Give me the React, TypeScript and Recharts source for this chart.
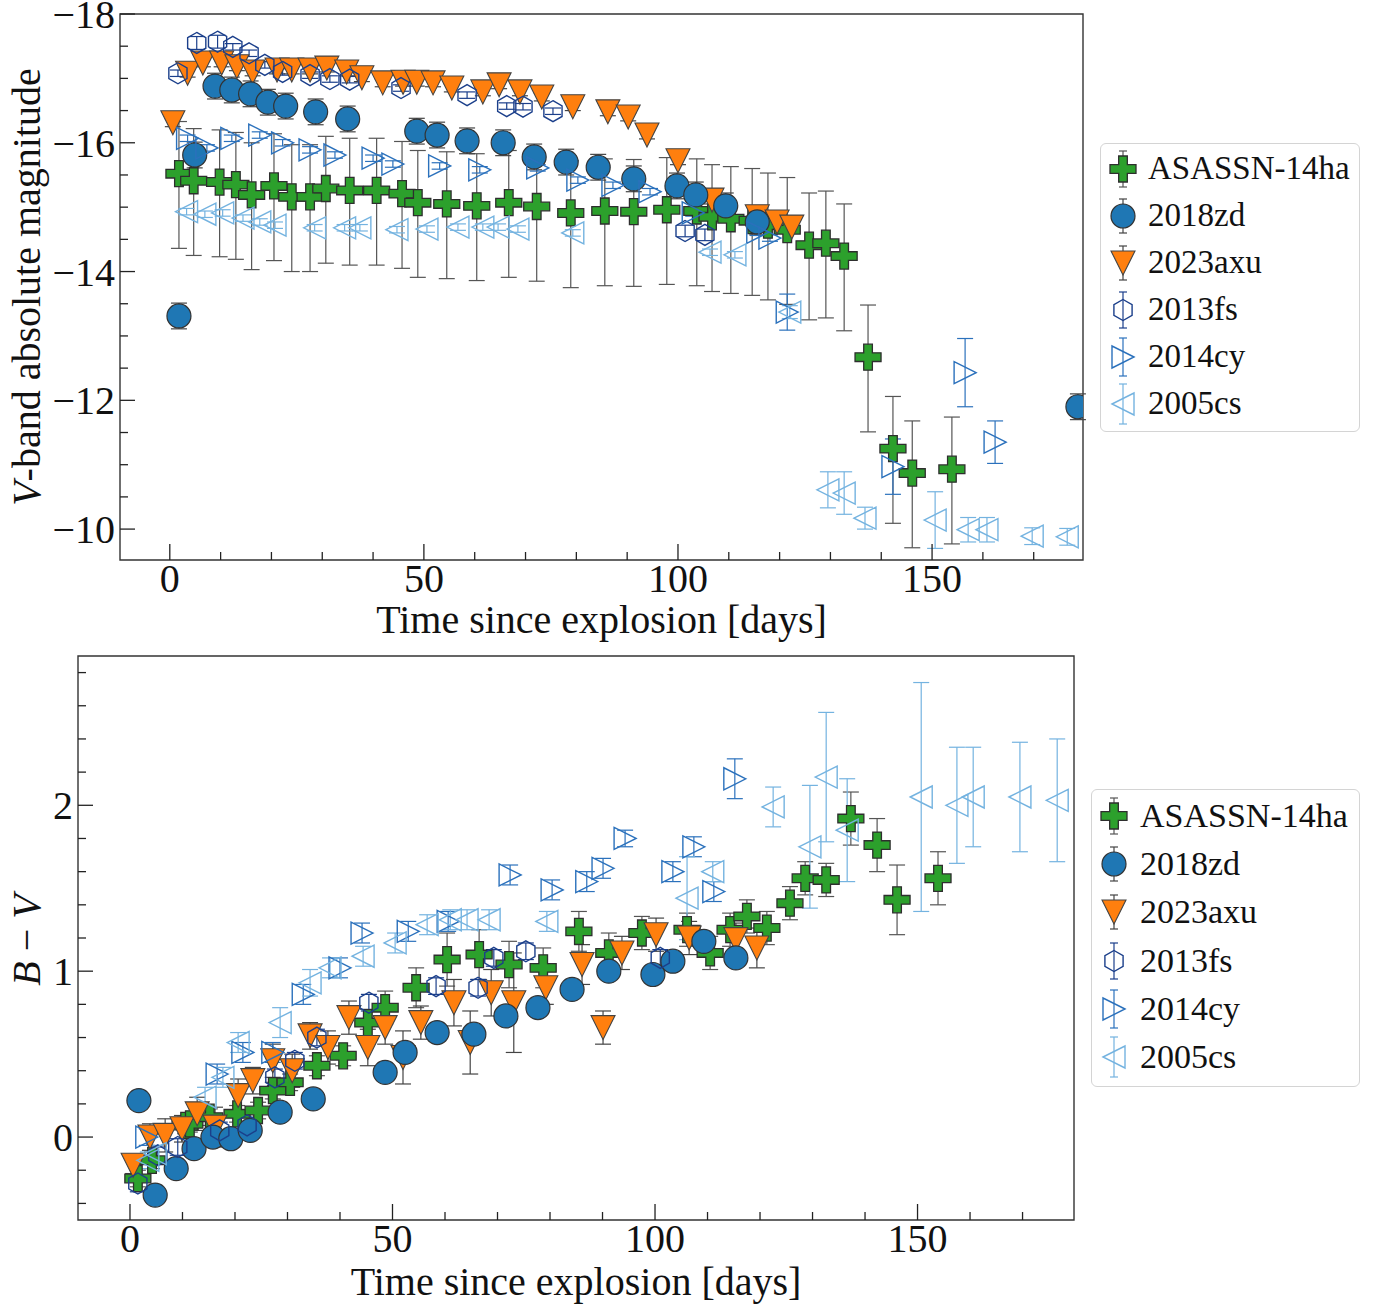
import React from "react";
import { ScatterChart, Scatter, XAxis, YAxis, ErrorBar, Legend, ReferenceArea } from "recharts";

const FONT = '"Liberation Serif", "DejaVu Serif", "Times New Roman", serif';

// colours
const C_AS = "#2ca02c";
const C_ZD = "#1f77b4";
const C_AXU = "#ff7f0e";
const C_FS = "#1b3f8b";
const C_CY = "#2b71bc";
const C_CS = "#74b3e0";

// ---------- top panel: V-band absolute magnitude ----------
const vAsDay = [1.8, 4.7, 9.8, 13.0, 16.1, 20.5, 24.0, 27.6, 30.7, 35.4, 40.7, 45.7, 48.8, 54.5, 60.4, 66.7, 72.2, 78.9, 85.6, 91.3, 97.8, 103.7, 106.7, 110.4, 114.6, 117.7, 121.5, 125.8, 129.1, 132.7, 137.4, 142.3, 146.1, 153.9];
const vAsMag = [-15.52, -15.41, -15.39, -15.35, -15.19, -15.33, -15.16, -15.16, -15.29, -15.26, -15.26, -15.21, -15.07, -15.05, -15.02, -15.07, -15.01, -14.91, -14.94, -14.93, -14.96, -14.94, -14.85, -14.82, -14.79, -14.72, -14.65, -14.41, -14.44, -14.24, -12.67, -11.25, -10.87, -10.93];
const vAsErrUp = 0.81;
const vAsErrDown = 1.16;

const vZdDay = [1.8, 4.9, 8.9, 12.2, 15.9, 19.3, 22.8, 28.7, 35.0, 48.6, 52.6, 58.5, 65.6, 71.7, 78.0, 84.3, 91.3, 99.8, 103.5, 109.4, 115.6, 178.7];
const vZdMag = [-13.31, -15.81, -16.88, -16.82, -16.76, -16.63, -16.57, -16.48, -16.37, -16.18, -16.12, -16.03, -16.0, -15.78, -15.7, -15.62, -15.44, -15.33, -15.19, -15.02, -14.77, -11.9];
const vZdErr = 0.2;

const vAxuDay = [0.6, 3.5, 6.5, 10.2, 13.2, 16.3, 21.1, 24.0, 27.6, 30.9, 34.8, 37.8, 41.9, 45.9, 48.6, 51.8, 55.5, 61.6, 64.8, 68.9, 73.2, 79.3, 86.2, 90.2, 93.9, 100.0, 106.7, 115.6, 119.5, 122.4];
const vAxuMag = [-16.31, -17.08, -17.24, -17.24, -17.18, -17.1, -17.13, -17.13, -17.13, -17.16, -17.1, -17.01, -16.93, -16.94, -16.94, -16.93, -16.85, -16.79, -16.9, -16.79, -16.71, -16.56, -16.48, -16.4, -16.12, -15.72, -15.11, -14.85, -14.77, -14.69];
const vAxuErr = 0.06;

const vFsDay = [1.6, 5.3, 9.4, 12.4, 15.6, 18.7, 22.2, 27.6, 31.5, 35.4, 45.5, 58.5, 66.3, 69.5, 75.4, 101.4, 105.3];
const vFsMag = [-17.08, -17.55, -17.57, -17.49, -17.39, -17.21, -17.1, -17.05, -16.99, -16.98, -16.85, -16.74, -16.57, -16.56, -16.49, -14.63, -14.57];
const vFsErr = [0.05, 0.1, 0.1, 0.05, 0.05, 0.05, 0.05, 0.05, 0.05, 0.05, 0.05, 0.05, 0.05, 0.05, 0.05, 0.09, 0.09];

const vCyDay = [3.5, 7.3, 12.2, 17.7, 22.2, 27.6, 32.5, 40.0, 43.9, 53.1, 61.0, 72.4, 80.3, 87.2, 94.5, 103.0, 115.7, 118.1, 121.5, 142.3, 156.5, 162.4];
const vCyMag = [-16.07, -15.92, -16.07, -16.12, -16.0, -15.89, -15.81, -15.76, -15.67, -15.64, -15.58, -15.61, -15.42, -15.34, -15.24, -14.91, -14.61, -14.52, -13.37, -10.97, -12.43, -11.35];
const vCyErr = [0.05, 0.05, 0.05, 0.05, 0.05, 0.05, 0.05, 0.05, 0.05, 0.05, 0.05, 0.05, 0.05, 0.05, 0.05, 0.05, 0.05, 0.05, 0.28, 0.43, 0.53, 0.33];

const vCsDay = [3.3, 6.9, 10.4, 14.4, 17.7, 20.7, 28.5, 34.4, 37.4, 44.7, 50.6, 56.7, 61.6, 64.6, 68.5, 79.3, 106.3, 111.2, 122.0, 129.5, 132.7, 136.8, 150.6, 157.1, 160.8, 169.7, 176.6];
const vCsMag = [-14.93, -14.89, -14.91, -14.83, -14.77, -14.72, -14.68, -14.68, -14.68, -14.65, -14.66, -14.69, -14.69, -14.69, -14.66, -14.6, -14.3, -14.26, -13.37, -10.61, -10.56, -10.17, -10.14, -9.99, -9.99, -9.89, -9.88];
const vCsErr = [0.05, 0.05, 0.05, 0.05, 0.05, 0.05, 0.05, 0.05, 0.05, 0.05, 0.05, 0.05, 0.05, 0.05, 0.05, 0.05, 0.05, 0.05, 0.1, 0.28, 0.33, 0.17, 0.44, 0.19, 0.19, 0.13, 0.13];

// ---------- bottom panel: B - V colour ----------
const bvAsDay = [1.5, 4.2, 10.5, 11.4, 15.2, 20.4, 24.4, 27.2, 30.5, 35.6, 40.6, 45.3, 48.6, 54.5, 60.4, 66.5, 72.2, 78.7, 85.5, 91.2, 97.5, 106.1, 110.5, 114.3, 117.5, 121.3, 125.7, 128.6, 132.6, 137.3, 142.3, 146.1, 153.9];
const bvAsVal = [-0.25, -0.14, 0.07, 0.08, 0.12, 0.14, 0.16, 0.28, 0.33, 0.43, 0.49, 0.69, 0.78, 0.9, 1.07, 1.1, 1.04, 1.02, 1.24, 1.11, 1.23, 1.25, 1.11, 1.25, 1.33, 1.26, 1.41, 1.56, 1.55, 1.92, 1.76, 1.43, 1.56];
const bvAsErr = [0.05, 0.05, 0.05, 0.05, 0.05, 0.05, 0.05, 0.05, 0.05, 0.06, 0.06, 0.08, 0.1, 0.12, 0.16, 0.15, 0.14, 0.12, 0.12, 0.12, 0.1, 0.1, 0.1, 0.1, 0.1, 0.1, 0.1, 0.1, 0.1, 0.16, 0.16, 0.21, 0.16];

const bvZdDay = [1.7, 4.8, 8.8, 12.2, 15.8, 19.2, 22.9, 28.6, 34.9, 48.6, 52.4, 58.5, 65.5, 71.6, 77.7, 84.2, 91.2, 99.6, 103.4, 109.3, 115.4];
const bvZdVal = [0.22, -0.35, -0.19, -0.07, 0.0, -0.01, 0.04, 0.15, 0.23, 0.39, 0.51, 0.63, 0.62, 0.73, 0.78, 0.89, 1.0, 0.98, 1.06, 1.18, 1.08];
const bvZdErr = 0.04;

const bvAxuDay = [0.6, 3.8, 6.7, 9.9, 12.8, 16.2, 20.6, 23.4, 27.2, 30.9, 34.3, 37.7, 41.7, 45.3, 48.6, 52.0, 55.4, 61.7, 64.8, 68.8, 73.1, 79.2, 86.1, 90.1, 93.7, 100.2, 106.5, 115.4, 119.4];
const bvAxuVal = [-0.17, 0.0, 0.01, 0.05, 0.14, 0.06, 0.25, 0.34, 0.46, 0.4, 0.61, 0.54, 0.72, 0.54, 0.66, 0.48, 0.69, 0.81, 0.57, 0.87, 0.81, 0.9, 1.04, 0.66, 1.11, 1.22, 1.2, 1.19, 1.14];
const bvAxuErr = [0.05, 0.08, 0.1, 0.08, 0.1, 0.12, 0.1, 0.08, 0.1, 0.1, 0.08, 0.1, 0.1, 0.11, 0.1, 0.16, 0.1, 0.14, 0.19, 0.14, 0.3, 0.1, 0.12, 0.1, 0.1, 0.1, 0.1, 0.1, 0.12];

const bvFsDay = [1.5, 5.3, 9.1, 17.1, 22.3, 27.6, 31.4, 35.6, 45.5, 58.3, 66.3, 69.3, 75.4, 101.0];
const bvFsVal = [-0.28, -0.11, -0.06, 0.04, 0.07, 0.36, 0.46, 0.6, 0.81, 0.91, 0.9, 1.08, 1.12, 1.08];
const bvFsErr = 0.05;

const bvCyDay = [3.2, 16.6, 21.5, 27.2, 33.0, 40.0, 44.2, 53.0, 60.6, 72.4, 80.4, 87.0, 90.1, 94.3, 103.4, 107.4, 111.2, 115.2];
const bvCyVal = [0.0, 0.38, 0.51, 0.51, 0.86, 1.02, 1.23, 1.24, 1.3, 1.58, 1.49, 1.54, 1.62, 1.8, 1.6, 1.75, 1.48, 2.16];
const bvCyErr = [0.05, 0.06, 0.06, 0.06, 0.06, 0.06, 0.06, 0.06, 0.06, 0.06, 0.06, 0.06, 0.06, 0.05, 0.06, 0.06, 0.06, 0.12];

const bvCsDay = [3.4, 4.8, 14.3, 17.7, 20.6, 28.6, 34.3, 38.1, 44.4, 50.5, 56.6, 61.0, 64.2, 68.4, 79.4, 106.1, 111.0, 122.5, 129.5, 132.6, 136.6, 150.7, 157.5, 160.6, 169.5, 176.6];
const bvCsVal = [-0.14, -0.1, 0.24, 0.36, 0.57, 0.69, 0.93, 1.02, 1.09, 1.17, 1.28, 1.31, 1.31, 1.31, 1.3, 1.44, 1.6, 1.99, 1.75, 2.17, 1.85, 2.05, 2.0, 2.05, 2.05, 2.03];
const bvCsErr = [0.05, 0.05, 0.06, 0.06, 0.06, 0.09, 0.08, 0.06, 0.06, 0.06, 0.06, 0.06, 0.06, 0.06, 0.06, 0.25, 0.06, 0.12, 0.37, 0.39, 0.31, 0.69, 0.35, 0.3, 0.33, 0.37];

// axes
const X_DOMAIN_TOP = [-9.8, 179.7];
const X_DOMAIN_BOT = [-9.9, 179.8];
const X_TICKS = [0, 10, 20, 30, 40, 50, 60, 70, 80, 90, 100, 110, 120, 130, 140, 150, 160, 170];
const X_MAJOR = [0, 50, 100, 150];
const V_DOMAIN = [-18, -9.52];
const V_TICKS = [-18, -17.5, -17, -16.5, -16, -15.5, -15, -14.5, -14, -13.5, -13, -12.5, -12, -11.5, -11, -10.5, -10];
const V_MAJOR = [-18, -16, -14, -12, -10];
const BV_DOMAIN = [-0.5, 2.9];
const BV_TICKS = [-0.4, -0.2, 0, 0.2, 0.4, 0.6, 0.8, 1, 1.2, 1.4, 1.6, 1.8, 2, 2.2, 2.4, 2.6, 2.8];
const BV_MAJOR = [0, 1, 2];

type ErrVal = number | [number, number];
const mk = (xs: number[], ys: number[], lo: number | number[], hi?: number) =>
  xs.map((x, i) => {
    const l = typeof lo === "number" ? lo : lo[i];
    const e: ErrVal = hi === undefined ? l : [l, hi];
    return { x, y: ys[i], e };
  });

// ---------- markers ----------
function plusPath(cx: number, cy: number, s: number) {
  const a = s / 6;
  const b = s / 2;
  return `M${cx - a},${cy - b}H${cx + a}V${cy - a}H${cx + b}V${cy + a}H${cx + a}V${cy + b}H${cx - a}V${cy + a}H${cx - b}V${cy - a}H${cx - a}Z`;
}
const PlusMark = ({ cx, cy }: any) =>
  cx == null ? null : <path d={plusPath(cx, cy, 26)} fill={C_AS} stroke="#2e2e2e" strokeWidth={1.3} />;
const CircleMark = ({ cx, cy }: any) =>
  cx == null ? null : <circle cx={cx} cy={cy} r={12} fill={C_ZD} stroke="#333" strokeWidth={1.2} />;
const TriDownMark = ({ cx, cy }: any) => {
  if (cx == null) return null;
  const s = 12;
  return <path d={`M${cx - s},${cy - s}L${cx + s},${cy - s}L${cx},${cy + s}Z`} fill={C_AXU} stroke="#444" strokeWidth={1.1} />;
};
const HexMark = ({ cx, cy }: any) => {
  if (cx == null) return null;
  const r = 10.5;
  const pts = [0, 1, 2, 3, 4, 5]
    .map((k) => {
      const a = ((-90 + 60 * k) * Math.PI) / 180;
      return `${cx + r * Math.cos(a)},${cy + r * Math.sin(a)}`;
    })
    .join(" ");
  return <polygon points={pts} fill="none" stroke={C_FS} strokeWidth={1.4} />;
};
const TriRightMark = ({ cx, cy }: any) => {
  if (cx == null) return null;
  const s = 11;
  return <path d={`M${cx + s},${cy}L${cx - s},${cy - s}L${cx - s},${cy + s}Z`} fill="none" stroke={C_CY} strokeWidth={1.4} />;
};
const TriLeftMark = ({ cx, cy }: any) => {
  if (cx == null) return null;
  const s = 11;
  return <path d={`M${cx - s},${cy}L${cx + s},${cy - s}L${cx + s},${cy + s}Z`} fill="none" stroke={C_CS} strokeWidth={1.4} />;
};

const SERIES = [
  { name: "ASASSN-14ha", Mark: PlusMark, err: "#555", bar: 18 },
  { name: "2018zd", Mark: CircleMark, err: "#444", bar: 17 },
  { name: "2023axu", Mark: TriDownMark, err: "#444", bar: 17 },
  { name: "2013fs", Mark: HexMark, err: C_FS, bar: 18 },
  { name: "2014cy", Mark: TriRightMark, err: C_CY, bar: 19 },
  { name: "2005cs", Mark: TriLeftMark, err: C_CS, bar: 20 },
];

function LegendBox({ rowH, top, fontSize, textLeft }: { rowH: number; top: number; fontSize: number; textLeft: number }) {
  return (
    <div
      style={{
        boxSizing: "border-box",
        width: "100%",
        height: "100%",
        border: "1px solid #d4d4d4",
        borderRadius: 6,
        background: "#fff",
        paddingTop: top,
        fontFamily: FONT,
      }}
    >
      {SERIES.map((s) => (
        <div key={s.name} style={{ height: rowH, display: "flex", alignItems: "center", position: "relative" }}>
          <svg width={46} height={46} style={{ position: "absolute", left: 0, top: (rowH - 46) / 2 }}>
            <line x1={22} x2={22} y1={23 - s.bar} y2={23 + s.bar} stroke={s.err} strokeWidth={1.2} />
            <line x1={18} x2={26} y1={23 - s.bar} y2={23 - s.bar} stroke={s.err} strokeWidth={1.2} />
            <line x1={18} x2={26} y1={23 + s.bar} y2={23 + s.bar} stroke={s.err} strokeWidth={1.2} />
            <s.Mark cx={22} cy={23} />
          </svg>
          <span style={{ position: "absolute", left: textLeft, fontSize, color: "#111", lineHeight: 1, whiteSpace: "nowrap" }}>
            {s.name}
          </span>
        </div>
      ))}
    </div>
  );
}

const near = (v: number, list: number[]) => list.some((m) => Math.abs(m - v) < 1e-6);
const fmt = (v: number) => (v < 0 ? "\u2212" + Math.abs(v) : String(Math.round(v * 10) / 10));

const makeXTick = (majors: number[]) => (props: any) => {
  const { x, y, payload } = props;
  const major = near(payload.value, majors);
  return (
    <g>
      <line x1={x} x2={x} y1={y} y2={y - (major ? 16 : 8)} stroke="#222" strokeWidth={1.3} />
      {major && (
        <text x={x} y={y + 32} textAnchor="middle" fontSize={40} fontFamily={FONT} fill="#111">
          {fmt(payload.value)}
        </text>
      )}
    </g>
  );
};
const makeYTick = (majors: number[]) => (props: any) => {
  const { x, y, payload } = props;
  const major = near(payload.value, majors);
  return (
    <g>
      <line x1={x} x2={x + (major ? 15 : 8)} y1={y} y2={y} stroke="#222" strokeWidth={1.3} />
      {major && (
        <text x={x - 5} y={y + 14} textAnchor="end" fontSize={40} fontFamily={FONT} fill="#111">
          {fmt(payload.value)}
        </text>
      )}
    </g>
  );
};

const xLabel = (baseline: number) => (props: any) => {
  const vb = props.viewBox || {};
  return (
    <text x={vb.x + vb.width / 2} y={baseline} textAnchor="middle" fontSize={40} fontFamily={FONT} fill="#111">
      Time since explosion [days]
    </text>
  );
};

const vLabel = () => (
  <text x={40} y={287} transform="rotate(-90 40 287)" textAnchor="middle" fontSize={40} fontFamily={FONT} fill="#111">
    <tspan fontStyle="italic">V</tspan>-band absolute magnitude
  </text>
);
const bvLabel = () => (
  <text x={40} y={290} transform="rotate(-90 40 290)" textAnchor="middle" fontSize={40} fontFamily={FONT} fill="#111">
    <tspan fontStyle="italic">B</tspan> {"\u2212"} <tspan fontStyle="italic">V</tspan>
  </text>
);

const topData = [
  mk(vAsDay, vAsMag, vAsErrUp, vAsErrDown),
  mk(vAxuDay, vAxuMag, vAxuErr),
  mk(vZdDay, vZdMag, vZdErr),
  mk(vFsDay, vFsMag, vFsErr),
  mk(vCyDay, vCyMag, vCyErr),
  mk(vCsDay, vCsMag, vCsErr),
];
const botData = [
  mk(bvAsDay, bvAsVal, bvAsErr),
  mk(bvAxuDay, bvAxuVal, bvAxuErr),
  mk(bvZdDay, bvZdVal, bvZdErr),
  mk(bvFsDay, bvFsVal, bvFsErr),
  mk(bvCyDay, bvCyVal, bvCyErr),
  mk(bvCsDay, bvCsVal, bvCsErr),
];
// drawing order: ASASSN-14ha, 2023axu, 2018zd, then the open markers
const ORDER = [0, 2, 1, 3, 4, 5];

function renderSeries(data: { x: number; y: number; e: ErrVal }[][]) {
  return ORDER.map((si, k) => {
    const s = SERIES[si];
    return (
      <Scatter key={s.name} name={s.name} data={data[k]} shape={<s.Mark />} isAnimationActive={false}>
        <ErrorBar dataKey="e" direction="y" width={8} strokeWidth={1.2} stroke={s.err} />
      </Scatter>
    );
  });
}

export default function App() {
  return (
    <div style={{ position: "absolute", left: 0, top: 0, width: 1379, height: 1307, background: "#fff" }}>
      <div style={{ position: "absolute", left: 0, top: 0 }}>
        <ScatterChart width={1379} height={650} margin={{ top: 14, right: 296, bottom: 10, left: 20 }}>
          <XAxis
            type="number"
            dataKey="x"
            domain={X_DOMAIN_TOP}
            allowDataOverflow
            ticks={X_TICKS}
            interval={0}
            tickSize={0}
            tickMargin={0}
            height={80}
            axisLine={false}
            tickLine={false}
            tick={makeXTick(X_MAJOR)}
            label={xLabel(633)}
          />
          <YAxis
            type="number"
            dataKey="y"
            domain={V_DOMAIN}
            reversed
            allowDataOverflow
            ticks={V_TICKS}
            interval={0}
            tickSize={0}
            tickMargin={0}
            width={100}
            axisLine={false}
            tickLine={false}
            tick={makeYTick(V_MAJOR)}
            label={vLabel}
          />
          <ReferenceArea x1={X_DOMAIN_TOP[0]} x2={X_DOMAIN_TOP[1]} y1={V_DOMAIN[0]} y2={V_DOMAIN[1]} fill="none" stroke="#333" strokeWidth={1.4} fillOpacity={0} />
          {renderSeries(topData)}
          <Legend
            layout="vertical"
            align="center"
            verticalAlign="middle"
            wrapperStyle={{ left: 1100, top: 143, width: 260, height: 289 }}
            content={() => <LegendBox rowH={47} top={1} fontSize={33} textLeft={47} />}
          />
        </ScatterChart>
      </div>
      <div style={{ position: "absolute", left: 0, top: 650 }}>
        <ScatterChart width={1379} height={657} margin={{ top: 6, right: 305, bottom: 7, left: 18 }}>
          <XAxis
            type="number"
            dataKey="x"
            domain={X_DOMAIN_BOT}
            allowDataOverflow
            ticks={X_TICKS}
            interval={0}
            tickSize={0}
            tickMargin={0}
            height={80}
            axisLine={false}
            tickLine={false}
            tick={makeXTick(X_MAJOR)}
            label={xLabel(645)}
          />
          <YAxis
            type="number"
            dataKey="y"
            domain={BV_DOMAIN}
            allowDataOverflow
            ticks={BV_TICKS}
            interval={0}
            tickSize={0}
            tickMargin={0}
            width={60}
            axisLine={false}
            tickLine={false}
            tick={makeYTick(BV_MAJOR)}
            label={bvLabel}
          />
          <ReferenceArea x1={X_DOMAIN_BOT[0]} x2={X_DOMAIN_BOT[1]} y1={BV_DOMAIN[0]} y2={BV_DOMAIN[1]} fill="none" stroke="#333" strokeWidth={1.4} fillOpacity={0} />
          {renderSeries(botData)}
          <Legend
            layout="vertical"
            align="center"
            verticalAlign="middle"
            wrapperStyle={{ left: 1091, top: 139, width: 269, height: 298 }}
            content={() => <LegendBox rowH={48.2} top={2} fontSize={34} textLeft={48} />}
          />
        </ScatterChart>
      </div>
    </div>
  );
}
